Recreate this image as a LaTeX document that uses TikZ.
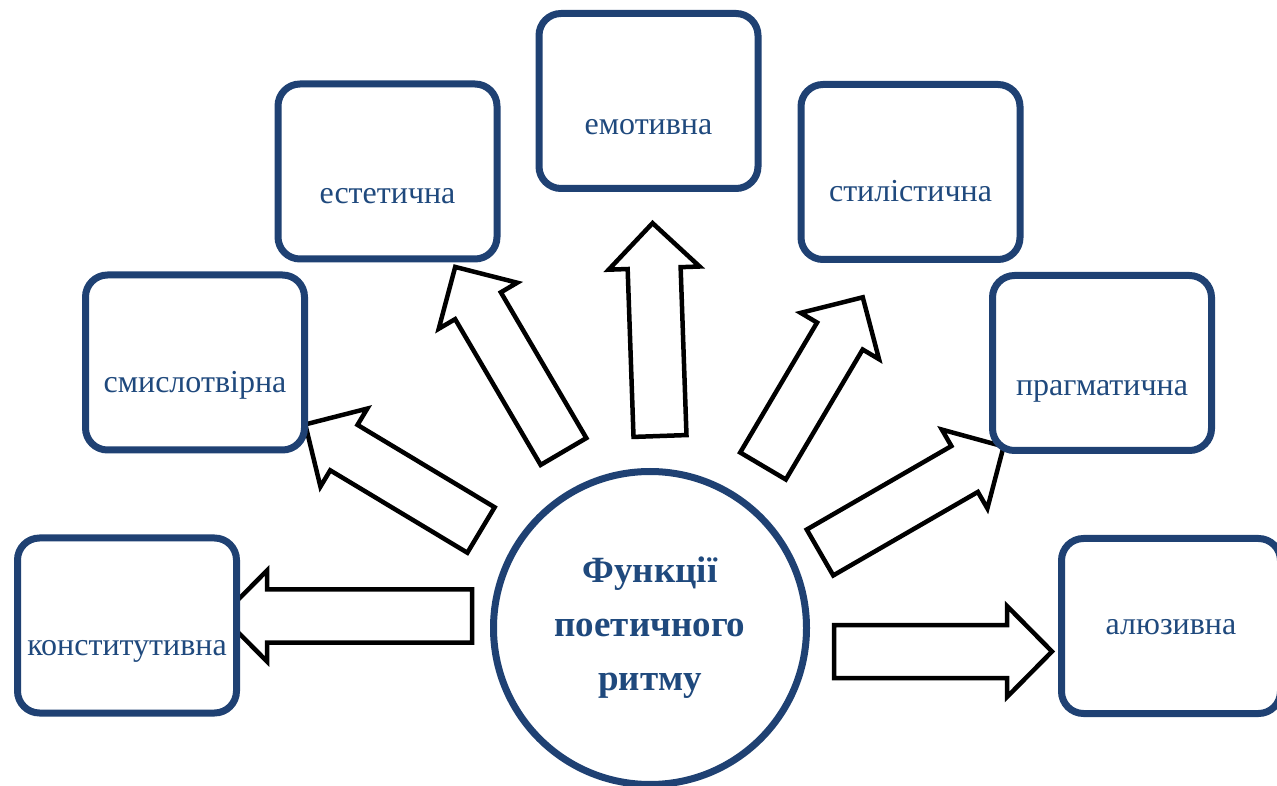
\documentclass[tikz,border=0pt]{standalone}
\usepackage{fontspec}
\setmainfont{Liberation Serif}
\usetikzlibrary{shadows}
\definecolor{boxblue}{RGB}{31,65,115}
\definecolor{textblue}{RGB}{31,73,125}

\tikzset{
  funcbox/.style={draw=boxblue, line width=7pt, rounded corners=22pt, fill=white,
    minimum width=219pt, minimum height=175pt,
    drop shadow={shadow xshift=2pt, shadow yshift=-3pt, opacity=0.25}},
  functext/.style={text=textblue, anchor=mid, inner sep=0pt, font=\fontsize{32}{38}\selectfont},
  blockarrow/.style={draw=black, line width=4.5pt, fill=white},
}

\begin{document}
\begin{tikzpicture}[x=1pt,y=1pt]
    \useasboundingbox (0,0) rectangle (1277,785);
    % block arrows: tail x / tail y / angle / length
    \foreach \tx/\ty/\ang/\len in {472/169/180/250, 481/255/149/205, 563.5/333.5/120.4/214,
                                   660/349/92/213, 763/319/59.4/196, 820/232.5/30/212,
                                   834/133.5/0/218} {
        \draw[blockarrow, shift={(\tx,\ty)}, rotate=\ang]
            (0,-26.5) -- (\len-45,-26.5) -- (\len-45,-45.5) -- (\len,0)
            -- (\len-45,45.5) -- (\len-45,26.5) -- (0,26.5) -- cycle;
    }
    % centre
    \node[draw=boxblue, line width=7pt, circle, minimum size=313pt, fill=white,
          drop shadow={shadow xshift=2pt, shadow yshift=-3pt, opacity=0.25},
          text=textblue, align=center, font=\bfseries\fontsize{37}{54}\selectfont]
          (ritm) at (650,157) {Функції\\поетичного\\ритму};
    % functions
    \node[funcbox] (konst) at (127,159.5) {};
    \node[funcbox] (smysl) at (195,422.5) {};
    \node[funcbox] (estet) at (387.5,613.5) {};
    \node[funcbox] (emot) at (648.5,684) {};
    \node[funcbox] (styl) at (910.5,613) {};
    \node[funcbox] (prahm) at (1102,422) {};
    \node[funcbox] (aluz) at (1171,159) {};
    \node[functext] (konst-t) at ([yshift=-28pt]konst.center) {конститутивна};
    \node[functext] (smysl-t) at ([yshift=-28pt]smysl.center) {смислотвірна};
    \node[functext] (estet-t) at ([yshift=-30pt]estet.center) {естетична};
    \node[functext] (emot-t) at ([yshift=-31pt]emot.center) {емотивна};
    \node[functext] (styl-t) at ([yshift=-27pt]styl.center) {стилістична};
    \node[functext] (prahm-t) at ([yshift=-30pt]prahm.center) {прагматична};
    \node[functext] (aluz-t) at ([yshift=-6pt]aluz.center) {алюзивна};
\end{tikzpicture}
\end{document}
